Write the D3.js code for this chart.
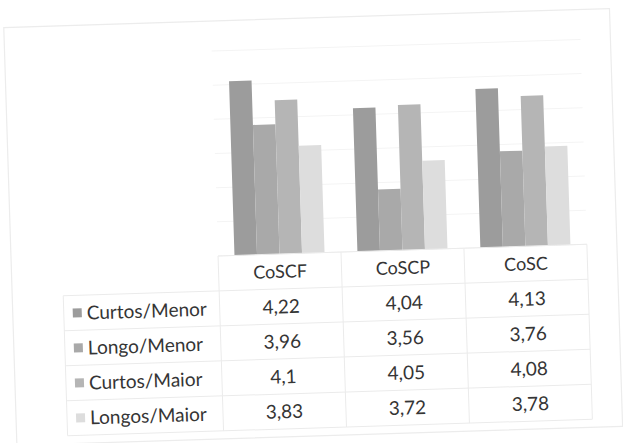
<!DOCTYPE html>
<html>
<head>
<meta charset="utf-8">
<script src="https://cdn.jsdelivr.net/npm/d3@7"></script>
<style>
  html, body { margin: 0; padding: 0; background: #fff; }
  svg { display: block; }
  text { font-family: Lato, "Open Sans", sans-serif; fill: #353535; }
</style>
</head>
<body>
<svg id="chart" width="623" height="443"></svg>
<script>
// ---- data ----
const categories = ["CoSCF", "CoSCP", "CoSC"];
const seriesNames = ["Curtos/Menor", "Longo/Menor", "Curtos/Maior", "Longos/Maior"];
const curtosMenor = [4.22, 4.04, 4.13];
const longoMenor  = [3.96, 3.56, 3.76];
const curtosMaior = [4.1, 4.05, 4.08];
const longosMaior = [3.83, 3.72, 3.78];
const yTicks = [3.2, 3.4, 3.6, 3.8, 4.0, 4.2, 4.4];
const seriesColors = ["#9c9c9c", "#a9a9a9", "#b5b5b5", "#dddddd"];

const seriesValues = [curtosMenor, longoMenor, curtosMaior, longosMaior];

// ---- layout ----
const svg = d3.select("#chart");
const root = svg.append("g").attr("transform", "rotate(-1.8, 311, 221)");

const plotLeft = 217, plotRight = 586, plotTop = 48, plotBottom = 253;
const rowH = 35, labelLeft = 61;

// outer chart border (faint, scanned)
root.append("rect")
  .attr("x", 10).attr("y", 18).attr("width", 606).attr("height", 418)
  .attr("fill", "none").attr("stroke", "#ececec").attr("stroke-width", 1.2);

const x = d3.scaleBand().domain(categories).range([plotLeft, plotRight]).paddingInner(0).paddingOuter(0);
const xs = d3.scaleBand().domain(seriesNames).range([0, x.bandwidth()]).paddingInner(0).paddingOuter(0.73);
const y = d3.scaleLinear().domain([3.2, 4.4]).range([plotBottom, plotTop]);

// gridlines (very faint)
root.append("g").selectAll("line").data(yTicks).join("line")
  .attr("x1", plotLeft).attr("x2", plotRight)
  .attr("y1", d => y(d)).attr("y2", d => y(d))
  .attr("stroke", "#f4f4f4").attr("stroke-width", 1);

// bars
const barsG = root.append("g");
seriesNames.forEach((s, si) => {
  barsG.append("g").selectAll("rect").data(categories).join("rect")
    .attr("x", (c) => x(c) + xs(s))
    .attr("width", xs.bandwidth())
    .attr("y", (c, ci) => y(seriesValues[si][ci]))
    .attr("height", (c, ci) => y(3.2) - y(seriesValues[si][ci]))
    .attr("fill", seriesColors[si]);
});

// ---- data table ----
const tbl = root.append("g");
const lineCol = "#ebebeb";
const tableBottom = plotBottom + rowH * (seriesNames.length + 1);

tbl.append("line").attr("x1", plotLeft).attr("x2", plotRight)
  .attr("y1", plotBottom).attr("y2", plotBottom).attr("stroke", lineCol);
const rowYs = d3.range(seriesNames.length + 1).map(i => plotBottom + rowH * (i + 1));
tbl.append("g").selectAll("line").data(rowYs).join("line")
  .attr("x1", labelLeft).attr("x2", plotRight)
  .attr("y1", d => d).attr("y2", d => d).attr("stroke", lineCol);
const colXs = categories.map(c => x(c)).concat([plotRight]);
tbl.append("g").selectAll("line").data(colXs).join("line")
  .attr("x1", d => d).attr("x2", d => d)
  .attr("y1", plotBottom).attr("y2", tableBottom).attr("stroke", lineCol);
tbl.append("line").attr("x1", labelLeft).attr("x2", labelLeft)
  .attr("y1", plotBottom + rowH).attr("y2", tableBottom).attr("stroke", lineCol);

// header labels
tbl.append("g").selectAll("text").data(categories).join("text")
  .attr("x", c => x(c) + x.bandwidth() / 2)
  .attr("y", plotBottom + rowH / 2)
  .attr("dy", "0.36em")
  .attr("text-anchor", "middle")
  .attr("font-size", 18)
  .text(c => c);

// rows
seriesNames.forEach((s, si) => {
  const cy = plotBottom + rowH * (si + 1) + rowH / 2;
  tbl.append("rect").attr("x", 70).attr("y", cy - 4.5).attr("width", 9).attr("height", 9)
    .attr("fill", seriesColors[si]);
  tbl.append("text").attr("x", 84).attr("y", cy).attr("dy", "0.36em")
    .attr("font-size", 19).text(s);
  tbl.append("g").selectAll("text").data(categories).join("text")
    .attr("x", c => x(c) + x.bandwidth() / 2)
    .attr("y", cy).attr("dy", "0.36em")
    .attr("text-anchor", "middle")
    .attr("font-size", 19)
    .text((c, ci) => String(seriesValues[si][ci]).replace(".", ","));
});
</script>
</body>
</html>
